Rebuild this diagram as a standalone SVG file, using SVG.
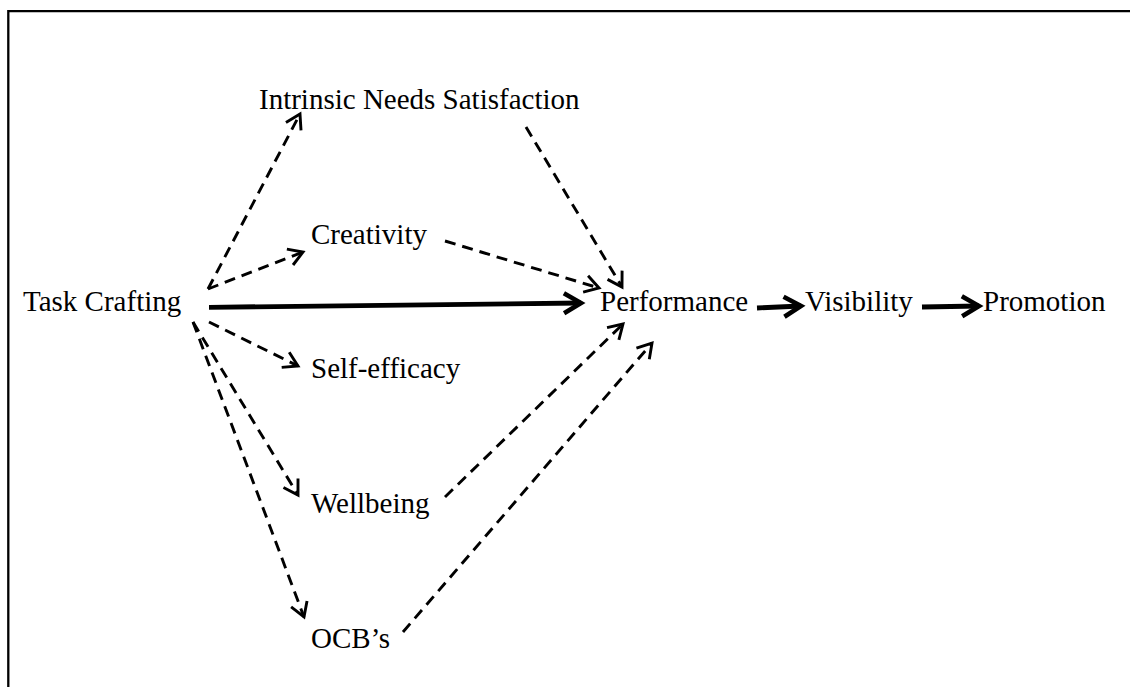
<svg xmlns="http://www.w3.org/2000/svg" width="1130" height="687" viewBox="0 0 1130 687">
<style>
  .lbl { font-family: "Liberation Serif", "Times New Roman", serif; font-size: 29px; fill: #000; }
  .dash { fill: none; stroke: #000; stroke-width: 2.9; stroke-dasharray: 11 7; marker-end: url(#ah); }
  .solid { fill: none; stroke: #000; stroke-width: 4.8; marker-end: url(#ahBold); }
  .frame { fill: none; stroke: #000; stroke-width: 2.3; }
</style>
<defs>
  <marker id="ah" markerUnits="userSpaceOnUse" markerWidth="20" markerHeight="20" refX="0" refY="0" orient="auto" overflow="visible">
    <path d="M-14,-8.5 L0,0 L-14,8.5" fill="none" stroke="#000" stroke-width="2.9" stroke-dasharray="none"/>
  </marker>
  <marker id="ahBold" markerUnits="userSpaceOnUse" markerWidth="24" markerHeight="24" refX="0" refY="0" orient="auto" overflow="visible">
    <path d="M-17,-10 L0,0 L-17,10" fill="none" stroke="#000" stroke-width="4.6" stroke-dasharray="none" stroke-linejoin="miter"/>
  </marker>
</defs>
<rect width="1130" height="687" fill="#fff"/>
<g id="frame">
  <path class="frame" d="M8.3,687 L8.3,11.2 L1130,11.2"/>
</g>
<g id="connectors">
  <path class="dash" d="M208,289 L300,114"/>
  <path class="dash" d="M208,289 L303,252"/>
  <path class="dash" d="M209,322 L298,366"/>
  <path class="dash" d="M193,322 L298,495"/>
  <path class="dash" d="M193,322 L304,617"/>
  <path class="dash" d="M526,127 L622,287"/>
  <path class="dash" d="M445,241 L599,288"/>
  <path class="dash" d="M445,497 L623,324"/>
  <path class="dash" d="M403,632 L652,343"/>
  <path class="solid" d="M209,307.3 L581,303"/>
  <path class="solid" d="M757,308 L801,306"/>
  <path class="solid" d="M922,307 L979,306"/>
</g>
<g id="node-intrinsic"><text class="lbl" x="259" y="109">Intrinsic Needs Satisfaction</text></g>
<g id="node-creativity"><text class="lbl" x="311" y="244">Creativity</text></g>
<g id="node-task"><text class="lbl" x="23" y="311">Task Crafting</text></g>
<g id="node-performance"><text class="lbl" x="600" y="311">Performance</text></g>
<g id="node-visibility"><text class="lbl" x="805" y="311">Visibility</text></g>
<g id="node-promotion"><text class="lbl" x="983" y="311">Promotion</text></g>
<g id="node-selfefficacy"><text class="lbl" x="311" y="378">Self-efficacy</text></g>
<g id="node-wellbeing"><text class="lbl" x="311" y="513">Wellbeing</text></g>
<g id="node-ocb"><text class="lbl" x="311" y="648">OCB’s</text></g>
</svg>
